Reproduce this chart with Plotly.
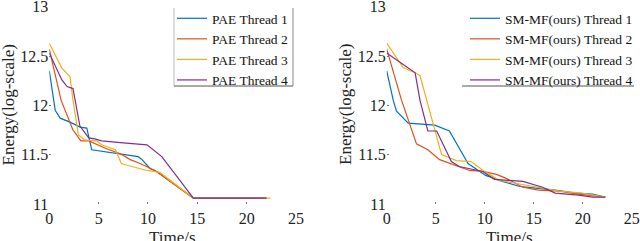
import plotly.graph_objects as go

# ---- data (left: PAE, right: SM-MF) ----
pae_t1_x = [0, 0.4, 0.6, 1.1, 2.1, 3.1, 3.8, 4.3, 5.8, 7.3, 9.0, 9.4, 10.2, 10.9, 14.6, 22]
pae_t1_y = [12.35, 12.05, 11.95, 11.87, 11.83, 11.78, 11.77, 11.55, 11.53, 11.51, 11.48, 11.45, 11.36, 11.33, 11.06, 11.06]
pae_t2_x = [0, 1.2, 2.4, 3.2, 4.0, 5.8, 7.2, 8.2, 9.2, 9.9, 10.7, 14.6, 22]
pae_t2_y = [12.57, 12.05, 11.75, 11.64, 11.64, 11.56, 11.51, 11.45, 11.41, 11.38, 11.34, 11.06, 11.06]
pae_t3_x = [0, 1.26, 2.1, 2.4, 2.95, 3.6, 4.8, 5.3, 6.7, 7.3, 8.0, 9.9, 11.2, 14.6, 22.4]
pae_t3_y = [12.63, 12.38, 12.29, 12.05, 11.7, 11.65, 11.64, 11.6, 11.55, 11.41, 11.39, 11.34, 11.32, 11.06, 11.06]
pae_t4_x = [0, 1.26, 1.8, 2.4, 3.1, 4.0, 4.6, 5.3, 7.5, 8.5, 9.9, 11.4, 14.6, 22]
pae_t4_y = [12.53, 12.26, 12.19, 12.17, 11.79, 11.67, 11.66, 11.64, 11.62, 11.61, 11.6, 11.48, 11.06, 11.06]

sm_t1_x = [0, 0.67, 1.0, 2.2, 4.9, 6.4, 8.3, 9.1, 10.1, 11.8, 13.5, 15.2, 17.2, 19.3, 21.0, 22.3]
sm_t1_y = [12.35, 12.05, 11.94, 11.82, 11.8, 11.74, 11.41, 11.36, 11.29, 11.23, 11.18, 11.16, 11.14, 11.11, 11.10, 11.07]
sm_t2_x = [0, 1.52, 3.04, 4.2, 5.4, 7.4, 8.45, 9.8, 11.2, 12.2, 13.9, 15.5, 17.6, 19.6, 22.3]
sm_t2_y = [12.57, 12.05, 11.61, 11.55, 11.45, 11.38, 11.34, 11.33, 11.30, 11.26, 11.17, 11.14, 11.13, 11.10, 11.07]
sm_t3_x = [0, 1.7, 2.9, 3.4, 5.6, 7.1, 8.6, 10.0, 11.5, 13.2, 15.2, 17.6, 19.9, 22.3]
sm_t3_y = [12.63, 12.38, 12.33, 12.3, 11.5, 11.44, 11.43, 11.33, 11.24, 11.21, 11.17, 11.13, 11.11, 11.07]
sm_t4_x = [0, 2.9, 3.4, 4.2, 5.1, 6.6, 7.4, 8.45, 9.8, 11.0, 12.5, 13.9, 15.9, 17.2, 19.6, 21.0, 22.3]
sm_t4_y = [12.53, 12.33, 12.05, 11.74, 11.74, 11.43, 11.38, 11.36, 11.33, 11.25, 11.24, 11.23, 11.17, 11.11, 11.09, 11.07, 11.07]

left_names = ["PAE Thread 1", "PAE Thread 2", "PAE Thread 3", "PAE Thread 4"]
right_names = ["SM-MF(ours) Thread 1", "SM-MF(ours) Thread 2", "SM-MF(ours) Thread 3", "SM-MF(ours) Thread 4"]
colors = ["#0072BD", "#D95319", "#EDB120", "#7E2F8E"]

x_ticks = [0, 5, 10, 15, 20, 25]
y_ticks = [11, 11.5, 12, 12.5, 13]
y_tick_text = ["11", "11.5", "12", "12.5", "13"]

FONT = "Liberation Serif"

fig = go.Figure()
left = [(pae_t1_x, pae_t1_y), (pae_t2_x, pae_t2_y), (pae_t3_x, pae_t3_y), (pae_t4_x, pae_t4_y)]
right = [(sm_t1_x, sm_t1_y), (sm_t2_x, sm_t2_y), (sm_t3_x, sm_t3_y), (sm_t4_x, sm_t4_y)]
for (xs, ys), name, c in zip(left, left_names, colors):
    fig.add_trace(go.Scatter(x=xs, y=ys, mode="lines", name=name,
                             line=dict(color=c, width=1.2), xaxis="x", yaxis="y", legend="legend"))
for (xs, ys), name, c in zip(right, right_names, colors):
    fig.add_trace(go.Scatter(x=xs, y=ys, mode="lines", name=name,
                             line=dict(color=c, width=1.2), xaxis="x2", yaxis="y2", legend="legend2"))

W, H = 640, 241
def px(x): return x / W
def py(y): return (H - y) / H

ydom = [py(204), py(6.7)]
axis_common = dict(showline=False, showgrid=False, zeroline=False, ticks="inside", ticklen=2,
                   tickcolor="#777", ticklabeloverflow="allow", automargin=False,
                   tickfont=dict(family=FONT, size=16, color="#222"))

fig.update_layout(
    width=W, height=H, margin=dict(l=0, r=0, t=0, b=0, autoexpand=False),
    paper_bgcolor="white", plot_bgcolor="white",
    font=dict(family=FONT, color="#222"),
    xaxis=dict(domain=[px(49.3), px(296)], range=[0, 25], tickvals=x_ticks, anchor="y",
               ticklabelstandoff=3, **axis_common),
    yaxis=dict(domain=ydom, range=[11, 13], tickvals=y_ticks, ticktext=y_tick_text,
               anchor="x", **axis_common),
    xaxis2=dict(domain=[px(386.7), px(631.7)], range=[0, 25], tickvals=x_ticks, anchor="y2",
                ticklabelstandoff=3, **axis_common),
    yaxis2=dict(domain=ydom, range=[11, 13], tickvals=y_ticks, ticktext=y_tick_text,
                anchor="x2", **axis_common),
    legend=dict(x=px(293), y=py(3), xanchor="right", yanchor="top", bgcolor="rgba(255,255,255,0)",
                font=dict(family=FONT, size=13.5, color="#111"), tracegroupgap=0, itemwidth=30),
    legend2=dict(x=px(638), y=py(3), xanchor="right", yanchor="top", bgcolor="rgba(255,255,255,0)",
                 font=dict(family=FONT, size=13.5, color="#111"), tracegroupgap=0, itemwidth=30),
    showlegend=True,
)

# axis titles
for xc in [172, 509]:
    fig.add_annotation(text="Time/s", x=px(xc), y=py(226), xref="paper", yref="paper",
                       xanchor="center", yanchor="top", showarrow=False,
                       font=dict(family=FONT, size=17, color="#222"))
for xc in [7.5, 345]:
    fig.add_annotation(text="Energy(log-scale)", x=px(xc), y=py(105), xref="paper", yref="paper",
                       xanchor="center", yanchor="middle", textangle=-90, showarrow=False,
                       font=dict(family=FONT, size=17, color="#222"))

# legend box edges
fig.add_shape(type="line", xref="paper", yref="paper", x0=px(174), x1=px(174), y0=py(8), y1=py(86),
              line=dict(color="#bbb", width=1))
fig.add_shape(type="line", xref="paper", yref="paper", x0=px(174), x1=px(293), y0=py(86), y1=py(86),
              line=dict(color="#555", width=1))
fig.add_shape(type="line", xref="paper", yref="paper", x0=px(293), x1=px(293), y0=py(8), y1=py(86),
              line=dict(color="#888", width=1))
fig.add_shape(type="line", xref="paper", yref="paper", x0=px(462), x1=px(634), y0=py(86), y1=py(86),
              line=dict(color="#555", width=1))

fig.write_html("out.html", post_script="document.body.style.margin='0';",
               config={"displayModeBar": False})
